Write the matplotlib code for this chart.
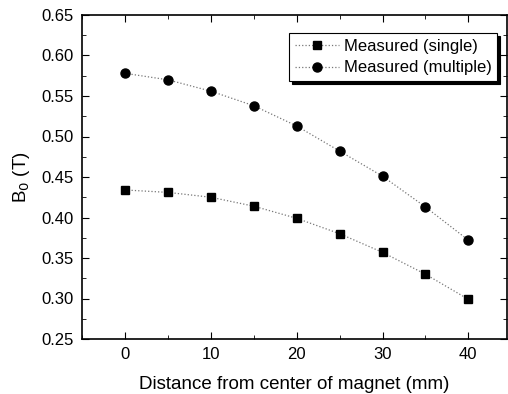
import matplotlib
matplotlib.use("Agg")
import matplotlib.pyplot as plt
from matplotlib.ticker import MultipleLocator

plt.rcParams['font.family'] = ['Liberation Sans', 'DejaVu Sans']

distance = [0, 5, 10, 15, 20, 25, 30, 35, 40]
single = [0.434, 0.431, 0.425, 0.414, 0.399, 0.380, 0.357, 0.330, 0.299]
multiple = [0.578, 0.570, 0.556, 0.538, 0.513, 0.482, 0.451, 0.413, 0.372]

fig = plt.figure(figsize=(5.08, 3.94), dpi=100)
ax = fig.add_axes([82/508, 55/394, 425/508, 324/394])

ax.plot(distance, single, linestyle=':', color='#777777', linewidth=0.9,
        marker='s', markersize=5.5, markerfacecolor='black', markeredgecolor='black',
        label='Measured (single)')
ax.plot(distance, multiple, linestyle=':', color='#777777', linewidth=0.9,
        marker='o', markersize=6.5, markerfacecolor='black', markeredgecolor='black',
        label='Measured (multiple)')

ax.set_xlim(-5, 44.5)
ax.set_ylim(0.25, 0.65)
ax.xaxis.set_major_locator(MultipleLocator(10))
ax.xaxis.set_minor_locator(MultipleLocator(5))
ax.yaxis.set_major_locator(MultipleLocator(0.05))
ax.yaxis.set_minor_locator(MultipleLocator(0.025))
ax.yaxis.set_major_formatter(plt.FormatStrFormatter('%.2f'))
ax.tick_params(which='both', direction='in', top=True, right=True, labelsize=12)
ax.tick_params(which='major', length=5, pad=6)
ax.tick_params(which='minor', length=3)
for s in ax.spines.values():
    s.set_linewidth(1.2)

ax.set_xlabel('Distance from center of magnet (mm)', fontsize=13.5, labelpad=10)
ax.set_ylabel('B$_0$ (T)', fontsize=13.5, labelpad=7)

leg = ax.legend(loc='upper right', bbox_to_anchor=(0.985, 0.955), fontsize=12,
                frameon=True, fancybox=False, shadow={'color': 'black', 'alpha': 1},
                edgecolor='black', handlelength=2.6, borderpad=0.35, labelspacing=0.4,
                handletextpad=0.3, borderaxespad=0.2)
leg.get_frame().set_linewidth(0.8)

fig.savefig('out.png', dpi=100)
